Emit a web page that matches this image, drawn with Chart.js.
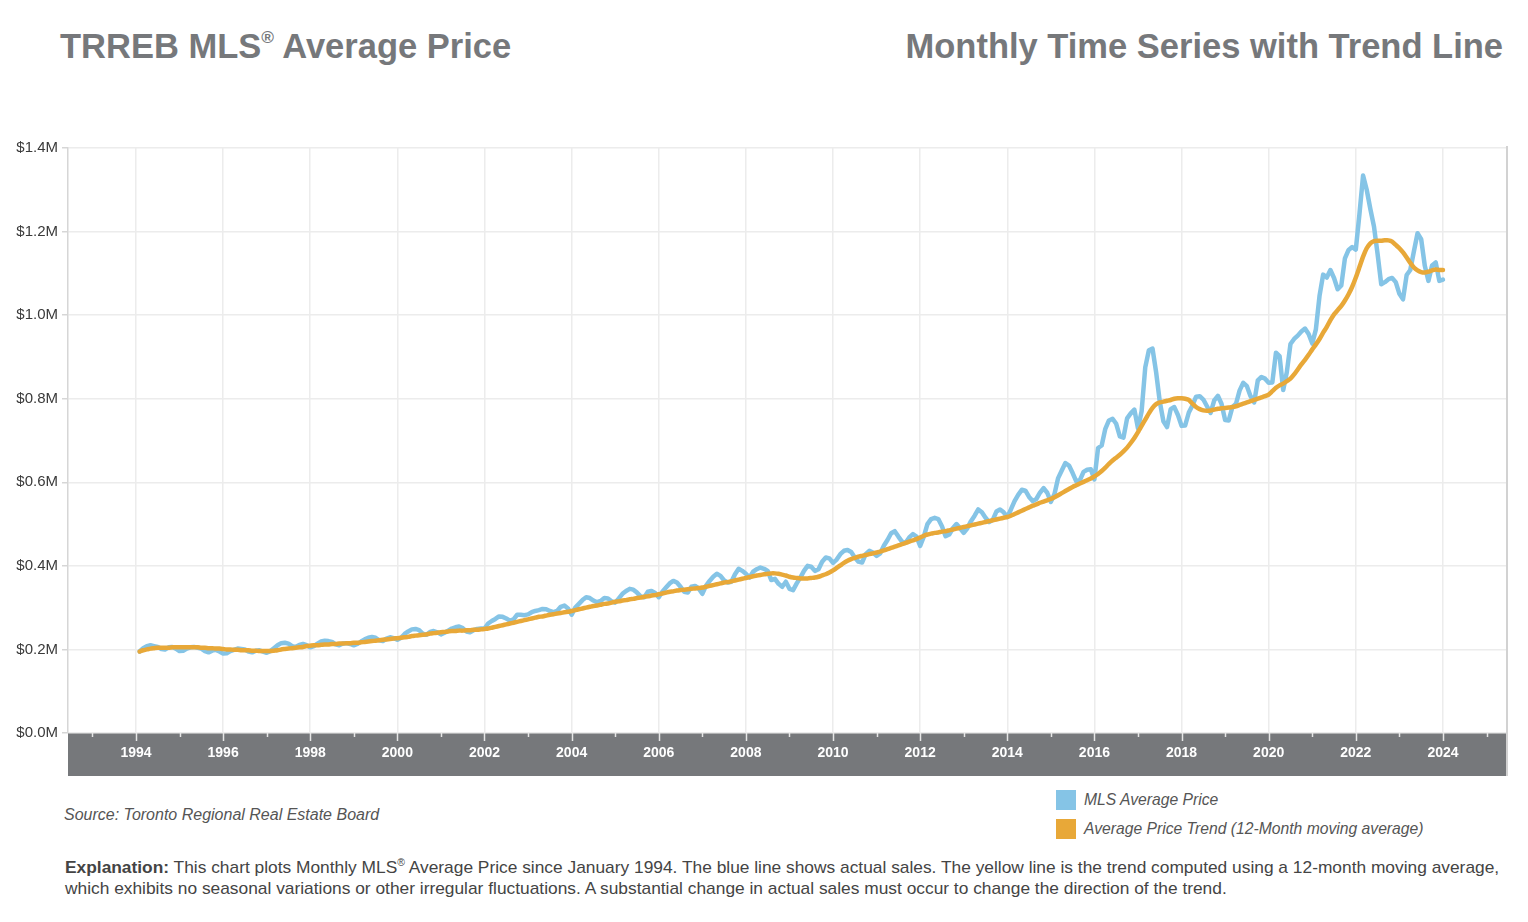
<!DOCTYPE html>
<html>
<head>
<meta charset="utf-8">
<script src="https://cdn.jsdelivr.net/npm/chart.js@4.4.1/dist/chart.umd.min.js"></script>
<style>
  body { margin: 0; width: 1528px; height: 922px; background: #fff; position: relative; overflow: hidden;
         font-family: "Liberation Sans", Arial, sans-serif; }
  .title { position: absolute; top: 29px; font-size: 34.5px; font-weight: bold; color: #76787b; line-height: 34px; white-space: nowrap; }
  .title sup { font-size: 0.5em; line-height: 0; vertical-align: 0.85em; }
  #chartBox { position: absolute; left: 0; top: 135px; width: 1528px; height: 645px; }
  .source { position: absolute; left: 64px; top: 806px; font-size: 16px; line-height: 18px; font-style: italic; color: #555; white-space: nowrap; }
  .legend-box { position: absolute; left: 1056px; width: 20px; height: 20px; }
  .legend-text { position: absolute; left: 1084px; font-size: 15.7px; line-height: 18px; font-style: italic; color: #555; white-space: nowrap; }
  .explain { position: absolute; left: 65px; top: 857px; font-size: 17.35px; line-height: 21px; color: #444; white-space: nowrap; }
  .explain sup { font-size: 0.6em; line-height: 0; vertical-align: 0.7em; }
</style>
</head>
<body>
<div class="title" style="left:60px">TRREB MLS<sup>®</sup> Average Price</div>
<div class="title" style="right:25px">Monthly Time Series with Trend Line</div>
<div id="chartBox"><canvas id="priceChart"></canvas></div>
<div class="source">Source: Toronto Regional Real Estate Board</div>
<div class="legend-box" style="top:790px;background:#85c4e6"></div>
<div class="legend-text" style="top:791px">MLS Average Price</div>
<div class="legend-box" style="top:819px;background:#e8a838"></div>
<div class="legend-text" style="top:820px">Average Price Trend (12-Month moving average)</div>
<div class="explain"><b>Explanation:</b> This chart plots Monthly MLS<sup>®</sup> Average Price since January 1994. The blue line shows actual sales. The yellow line is the trend computed using a 12-month moving average,<br>which exhibits no seasonal variations or other irregular fluctuations. A substantial change in actual sales must occur to change the direction of the trend.</div>

<script>
/* monthly values, $ thousands, Jan 1994 .. Dec 2023 */
const startYear = 1994;

const mlsPrice = [
  195, 203, 208, 210, 208, 206, 201, 200, 205, 206, 202, 196,   // 1994
  197, 202, 205, 206, 204, 202, 196, 193, 197, 199, 195, 190,   // 1995
  191, 196, 199, 202, 201, 200, 195, 193, 197, 198, 195, 192,   // 1996
  196, 203, 210, 215, 216, 214, 208, 206, 211, 213, 210, 205,   // 1997
  208, 214, 219, 221, 220, 218, 212, 210, 214, 215, 213, 210,   // 1998
  213, 219, 224, 228, 230, 228, 222, 220, 226, 229, 227, 223,   // 1999
  228, 237, 243, 248, 249, 246, 238, 235, 242, 244, 241, 236,   // 2000
  240, 245, 250, 253, 255, 251, 243, 241, 246, 249, 250, 250,   // 2001
  262, 268, 273, 279, 278, 274, 269, 272, 283, 283, 282, 284,   // 2002
  289, 292, 294, 297, 296, 292, 289, 292, 302, 305, 298, 283,   // 2003
  300, 309, 318, 325, 323, 317, 313, 316, 323, 322, 315, 312,   // 2004
  322, 333, 340, 345, 343, 336, 327, 325, 338, 340, 335, 325,   // 2005
  338, 348, 358, 364, 360, 350, 338, 336, 350, 352, 346, 333,   // 2006
  352, 364, 374, 381, 376, 365, 360, 362, 380, 393, 388, 381,   // 2007
  372, 386, 392, 396, 393, 388, 366, 369, 357, 350, 362, 345,   // 2008
  342, 358, 372, 388, 400, 398, 388, 392, 410, 420, 418, 407,   // 2009
  415, 428, 436, 438, 433, 420, 410, 408, 428, 436, 432, 424,   // 2010
  430, 448, 462, 478, 483, 470, 458, 455, 468, 476, 470, 448,   // 2011
  470, 500, 512, 515, 512, 495, 471, 475, 490, 500, 490, 479,   // 2012
  490, 507, 520, 535, 528, 515, 505, 510, 530, 535, 528, 517,   // 2013
  535, 555, 570, 582, 580, 565, 555, 560, 575, 586, 575, 553,   // 2014
  572, 610, 628, 646, 640, 622, 602, 605, 625, 630, 631, 607,   // 2015
  682, 688, 728, 748, 752, 740, 710, 707, 753, 765, 774, 729,   // 2016
  770, 875, 916, 920, 863, 793, 746, 732, 775, 780, 761, 735,   // 2017
  736, 767, 784, 805, 806, 798, 782, 766, 796, 807, 788, 749,   // 2018
  748, 780, 788, 820, 838, 830, 806, 791, 844, 852, 848, 838,   // 2019
  839, 910, 902, 821, 864, 931, 943, 951, 961, 968, 955, 932,   // 2020
  966, 1046, 1097, 1090, 1108, 1089, 1062, 1071, 1136, 1156, 1163, 1157,   // 2021
  1242, 1334, 1300, 1254, 1212, 1146, 1074, 1079, 1086, 1089, 1079, 1051, // 2022
  1038, 1096, 1108, 1153, 1196, 1182, 1118, 1082, 1119, 1126, 1082, 1085  // 2023
];

const trendPrice = [
  195, 198, 200, 202, 203, 204, 204, 204, 204, 205, 205, 205,   // 1994
  205, 205, 205, 205, 205, 204, 204, 203, 203, 202, 202, 201,   // 1995
  200, 200, 199, 199, 198, 198, 198, 197, 197, 196, 196, 196,   // 1996
  196, 197, 198, 200, 201, 202, 203, 204, 205, 206, 208, 209,   // 1997
  210, 210, 211, 212, 212, 213, 213, 214, 214, 215, 215, 216,   // 1998
  216, 217, 218, 219, 220, 221, 222, 223, 224, 225, 226, 227,   // 1999
  228, 229, 230, 232, 233, 234, 235, 236, 238, 239, 240, 241,   // 2000
  242, 243, 244, 244, 245, 245, 246, 246, 247, 247, 248, 249,   // 2001
  250, 252, 254, 256, 258, 260, 262, 264, 266, 268, 270, 272,   // 2002
  274, 276, 278, 279, 281, 283, 284, 286, 287, 289, 290, 292,   // 2003
  294, 296, 298, 300, 302, 304, 305, 307, 309, 310, 312, 314,   // 2004
  315, 317, 318, 320, 321, 323, 324, 326, 327, 329, 330, 332,   // 2005
  334, 336, 338, 339, 341, 342, 343, 344, 345, 346, 347, 348,   // 2006
  350, 352, 354, 356, 358, 360, 361, 363, 365, 367, 369, 371,   // 2007
  373, 375, 377, 378, 380, 381, 382, 382, 381, 379, 377, 374,   // 2008
  372, 371, 370, 370, 370, 371, 372, 374, 377, 380, 384, 389,   // 2009
  395, 401, 407, 412, 416, 419, 422, 424, 426, 428, 430, 432,   // 2010
  434, 437, 440, 443, 446, 449, 452, 455, 458, 461, 464, 468,   // 2011
  472, 475, 477, 479, 480, 482, 483, 485, 487, 489, 491, 493,   // 2012
  495, 497, 499, 501, 503, 505, 507, 509, 511, 513, 515, 517,   // 2013
  520, 524, 528, 532, 536, 540, 544, 547, 551, 554, 557, 560,   // 2014
  564, 569, 574, 579, 584, 589, 593, 597, 601, 605, 609, 614,   // 2015
  620, 627, 635, 644, 652, 659, 666, 674, 683, 694, 706, 720,   // 2016
  735, 750, 765, 778, 787, 791, 793, 795, 797, 800, 801, 801,   // 2017
  800, 797, 788, 780, 775, 772, 771, 772, 774, 776, 777, 778,   // 2018
  779, 780, 782, 785, 788, 791, 794, 797, 800, 803, 806, 810,   // 2019
  818, 826, 832, 836, 842, 848, 858, 870, 882, 893, 905, 918,   // 2020
  930, 943, 958, 972, 988, 1002, 1012, 1022, 1035, 1050, 1068, 1090,     // 2021
  1115, 1140, 1160, 1172, 1177, 1178, 1178, 1179, 1179, 1176, 1168, 1160, // 2022
  1150, 1138, 1125, 1114, 1107, 1103, 1102, 1104, 1107, 1109, 1108, 1108  // 2023
];

const yearLabels = [1994, 1996, 1998, 2000, 2002, 2004, 2006, 2008, 2010, 2012,
                    2014, 2016, 2018, 2020, 2022, 2024];
const priceTicks = [0, 200, 400, 600, 800, 1000, 1200, 1400];

const FONT = '"Liberation Sans", Arial, sans-serif';

// each month is plotted at its month end
const toPoints = arr => arr.map((v, i) => ({ x: startYear + (i + 1) / 12, y: v }));

// grey band behind the year labels, white year ticks, right border
const axisBand = {
  id: 'axisBand',
  beforeDraw(chart) {
    const { ctx, chartArea: a, scales: { x } } = chart;
    ctx.save();
    ctx.fillStyle = '#76787b';
    ctx.fillRect(a.left, a.bottom, a.right - a.left, x.bottom - a.bottom);
    ctx.restore();
  },
  afterDraw(chart) {
    const { ctx, chartArea: a, scales: { x } } = chart;
    ctx.save();
    ctx.strokeStyle = '#e6e6e6';
    ctx.lineWidth = 1.5;
    for (let yr = 1993; yr <= 2025; yr++) {
      const px = Math.round(x.getPixelForValue(yr)) + 0.5;
      const len = yr % 2 === 0 ? 8 : 4;
      ctx.beginPath();
      ctx.moveTo(px, a.bottom);
      ctx.lineTo(px, a.bottom + len);
      ctx.stroke();
    }
    ctx.strokeStyle = '#d2d2d2';
    ctx.lineWidth = 2;
    ctx.beginPath();
    ctx.moveTo(a.right, a.top - 2);
    ctx.lineTo(a.right, x.bottom);
    ctx.stroke();
    ctx.restore();
  }
};

new Chart(document.getElementById('priceChart'), {
  type: 'line',
  data: {
    datasets: [
      {
        label: 'MLS Average Price',
        data: toPoints(mlsPrice),
        borderColor: '#85c4e6',
        borderWidth: 4.5,
        pointRadius: 0,
        tension: 0,
        borderJoinStyle: 'round',
        borderCapStyle: 'round',
        order: 2
      },
      {
        label: 'Average Price Trend (12-Month moving average)',
        data: toPoints(trendPrice),
        borderColor: '#e8a838',
        borderWidth: 4.5,
        pointRadius: 0,
        tension: 0.2,
        borderJoinStyle: 'round',
        borderCapStyle: 'round',
        order: 1
      }
    ]
  },
  options: {
    responsive: true,
    maintainAspectRatio: false,
    animation: false,
    parsing: false,
    layout: { padding: { top: 10, right: 21, bottom: 4, left: 0 } },
    plugins: { legend: { display: false }, tooltip: { enabled: false } },
    scales: {
      x: {
        type: 'linear',
        min: 1992.44,
        max: 2025.47,
        afterBuildTicks: s => { s.ticks = yearLabels.map(v => ({ value: v })); },
        afterFit: s => { s.height = 43; },
        ticks: {
          color: '#ffffff',
          font: { family: FONT, size: 14, weight: 'bold' },
          padding: 12,
          maxRotation: 0,
          autoSkip: false,
          callback: v => String(v)
        },
        grid: { color: '#ececec', lineWidth: 1.5, drawTicks: false },
        border: { display: false }
      },
      y: {
        min: 0,
        max: 1400,
        afterBuildTicks: s => { s.ticks = priceTicks.map(v => ({ value: v })); },
        afterFit: s => { s.width = 68; },
        ticks: {
          color: '#3a3a3a',
          font: { family: FONT, size: 15 },
          padding: 4,
          callback: v => '$' + (v / 1000).toFixed(1) + 'M'
        },
        grid: { color: '#ececec', lineWidth: 1.5, tickLength: 6, tickColor: '#d6d6d6' },
        border: { color: '#d6d6d6', width: 1.5 }
      }
    }
  },
  plugins: [axisBand]
});
</script>
</body>
</html>
